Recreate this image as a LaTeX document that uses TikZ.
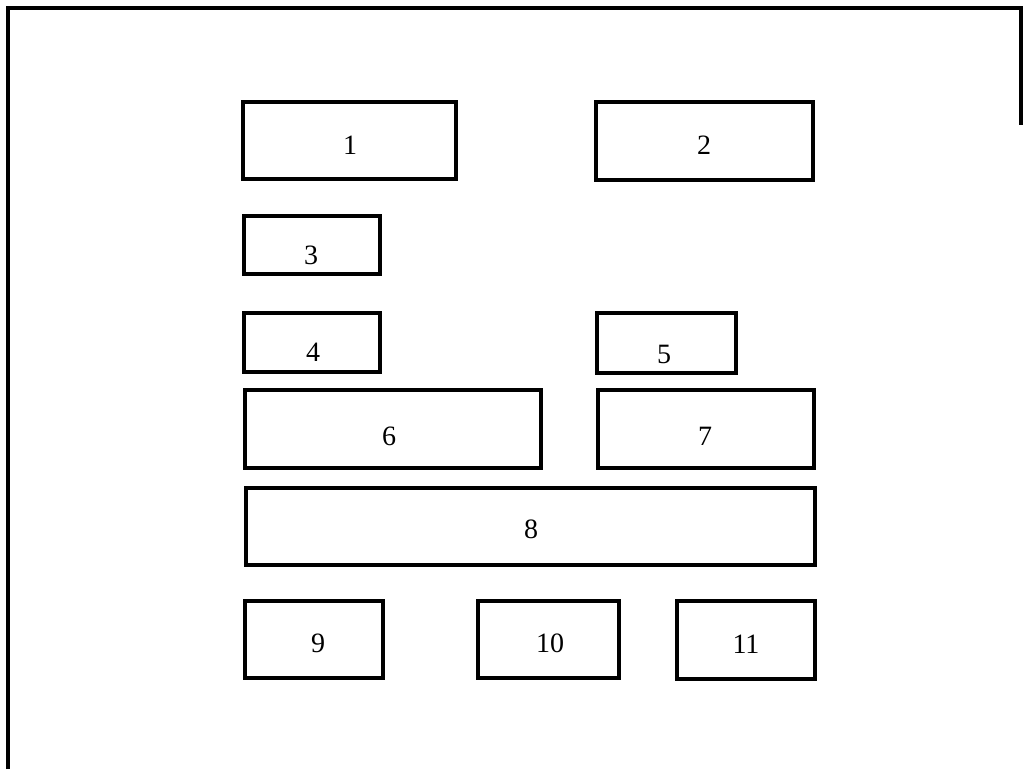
\documentclass[tikz,border=0pt]{standalone}
\usepackage{fontspec}
\setmainfont{Liberation Serif}
\begin{document}
\begin{tikzpicture}[x=1pt,y=-1pt,
  box/.style={draw=black,line width=3.2pt,minimum width=#1,inner sep=0pt,outer sep=0pt},
  lab/.style={font=\fontsize{28}{28}\selectfont,inner sep=0pt},
  frame/.style={draw=black,line width=3.4pt}]
\useasboundingbox (0,0) rectangle (1024,769);
% frame
\coordinate (ftl) at (8,8);
\coordinate (ftr) at (1021,8);
\coordinate (fbl) at (8,769);
\coordinate (frb) at (1021,125);
\draw[frame] (fbl) -- (ftl) -- (ftr) -- (frb);
% boxes
\node[box=213pt,minimum height=77pt] (b1) at (349.5,140.5) {};
\node[box=217pt,minimum height=78pt] (b2) at (704.5,141) {};
\node[box=136pt,minimum height=58pt] (b3) at (312,245) {};
\node[box=136pt,minimum height=59pt] (b4) at (312,342.5) {};
\node[box=139pt,minimum height=60pt] (b5) at (666.5,343) {};
\node[box=296pt,minimum height=78pt] (b6) at (393,429) {};
\node[box=216pt,minimum height=78pt] (b7) at (706,429) {};
\node[box=569pt,minimum height=77pt] (b8) at (530.5,526.5) {};
\node[box=138pt,minimum height=77pt] (b9) at (314,639.5) {};
\node[box=141pt,minimum height=77pt] (b10) at (548.5,639.5) {};
\node[box=138pt,minimum height=78pt] (b11) at (746,640) {};
% labels
\node[lab] (l1) at (350,145) {1};
\node[lab] (l2) at (704,145) {2};
\node[lab] (l3) at (311,255) {3};
\node[lab] (l4) at (313,352) {4};
\node[lab] (l5) at (664,354) {5};
\node[lab] (l6) at (389,436) {6};
\node[lab] (l7) at (705,436) {7};
\node[lab] (l8) at (531,529) {8};
\node[lab] (l9) at (318,643) {9};
\node[lab] (l10) at (550,643) {10};
\node[lab] (l11) at (746,644) {11};
\end{tikzpicture}
\end{document}
